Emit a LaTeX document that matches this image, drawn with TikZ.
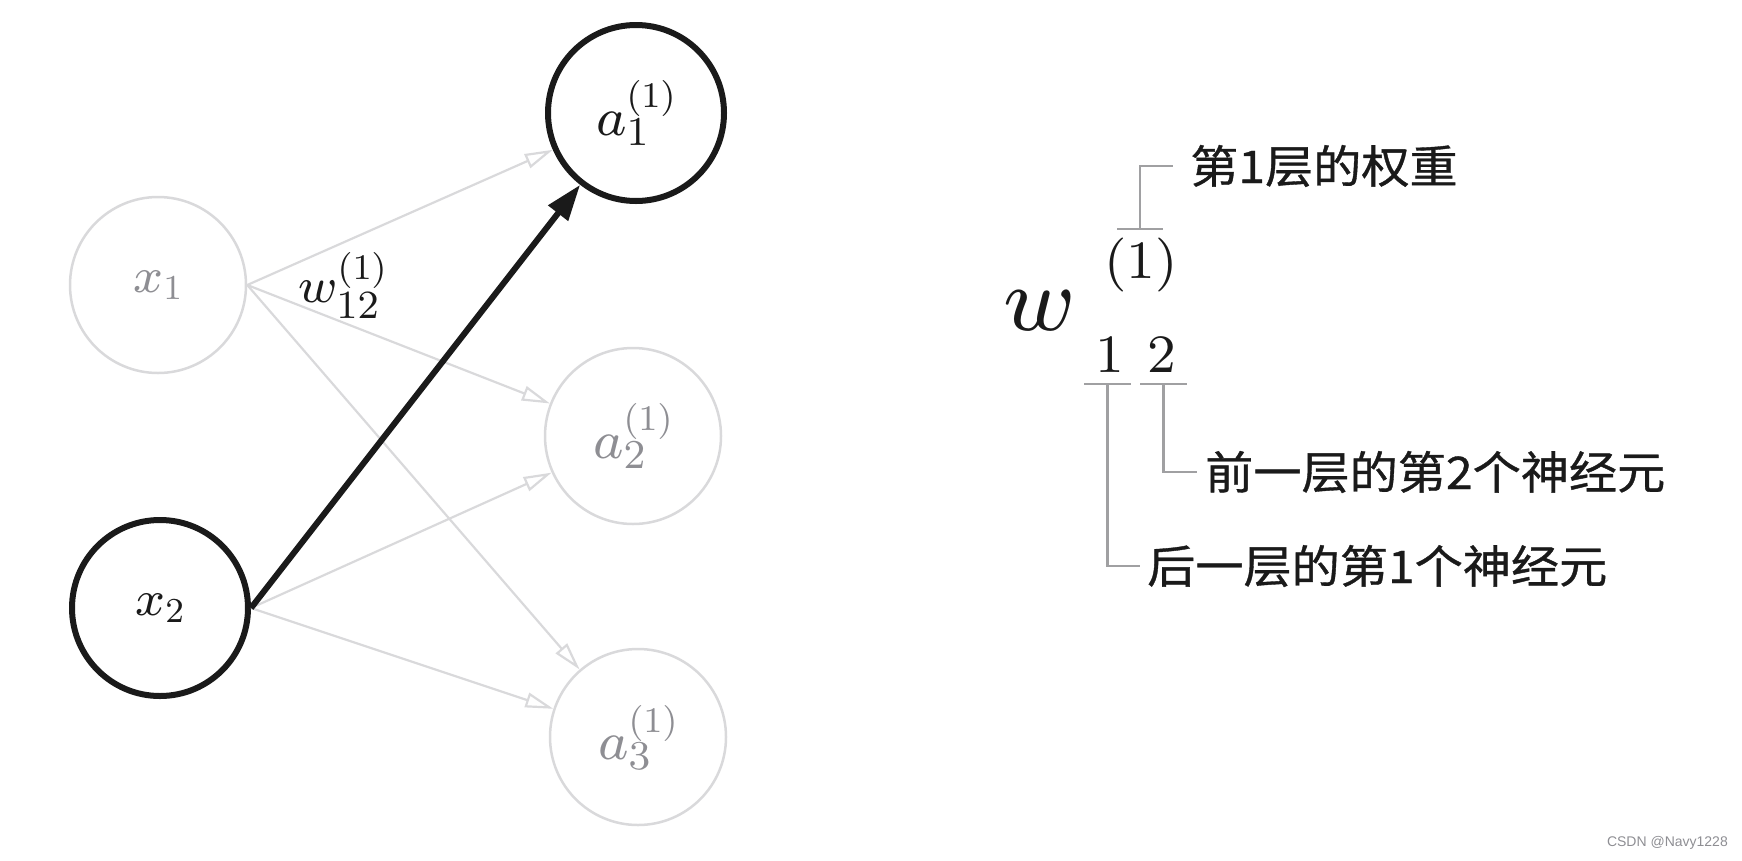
\RequirePackage{fix-cm}
\documentclass[tikz,border=0pt]{standalone}
\usepackage[no-math]{fontspec}
\setsansfont{Liberation Sans}
\newfontfamily\cjk[FakeStretch=1.07,FakeBold=0.8]{Noto Sans CJK SC}
\DeclareFontShape{OML}{cmm}{m}{it}{<->cmmi8}{}
\DeclareFontShape{OT1}{cmr}{m}{n}{<->cmr8}{}
\usetikzlibrary{arrows.meta}
\definecolor{lightg}{HTML}{D9D9DB}
\definecolor{labg}{HTML}{8E8E93}
\definecolor{brkg}{HTML}{A0A0A2}
\definecolor{ink}{HTML}{1A1A1A}
\newcommand{\fsz}[1]{\fontsize{#1}{#1}\selectfont}
% letter with explicitly sized (and shifted) subscript and superscript
\newcommand{\slab}[7]{$#1_{\hbox{\lower#6\hbox{\fsz{#2}$#3$}}}^{\hbox{\raise#7\hbox{\fsz{#4}$#5$}}}$}
\begin{document}
\begin{tikzpicture}[x=1pt,y=-1pt,
  neuron/.style={circle, minimum size=176pt, inner sep=0pt, draw=lightg, line width=2.5pt, text=labg, font=\fsz{50}},
  active/.style={draw=ink, line width=6pt, text=ink},
  garrow/.style={draw=lightg, line width=2.2pt, -{Triangle[open, length=28pt, width=15pt]}},
  barrow/.style={draw=ink, line width=6pt, -{Triangle[length=36pt, width=24pt]}},
  brk/.style={draw=brkg, line width=2.6pt},
  cjkt/.style={font=\cjk\fsz{45}, text=ink, inner ysep=0pt, anchor=west},
  mathbig/.style={font=\fsz{54}, text=ink, inner sep=0pt}
]
\useasboundingbox (0,0) rectangle (1742,860);

% neurons
\node[neuron] (x1) at (158,285) {$x_1$};
\node[neuron, active] (x2) at (160,608) {$x_2$};
\node[neuron, active, font=\fsz{54}] (a1) at (636,113) {\slab{a}{41}{1}{36}{(1)}{3pt}{0pt}};
\node[neuron, font=\fsz{54}] (a2) at (633,436) {\slab{a}{41}{2}{36}{(1)}{3pt}{0pt}};
\node[neuron, font=\fsz{54}] (a3) at (638,737) {\slab{a}{41}{3}{36}{(1)}{3pt}{0pt}};

% connections
\draw[garrow] (x1.east) -- (a1);
\draw[garrow] (x1.east) -- (a2);
\draw[garrow] (x1.east) -- (a3);
\draw[garrow] (x2.east) -- (a2);
\draw[garrow] (x2.east) -- (a3);
\draw[barrow] (x2.east) -- (a1);

% weight label
\node[font=\fsz{50}, text=ink, inner sep=0pt, anchor=base west] (wl) at (298,302) {\slab{w}{40}{12}{36}{(1)}{4pt}{4pt}};

% right explanation
\node[font=\fsz{92}, text=ink, inner sep=0pt] (w) at (1040,311) {$w$};
\node[mathbig] (sup) at (1141,265) {$(1)$};
\node[mathbig] (s1) at (1110,355) {$1$};
\node[mathbig] (s2) at (1162,355) {$2$};

\coordinate (bt) at (1140,229);
\coordinate (b1) at (1107.5,384);
\coordinate (b2) at (1163.5,384);
\draw[brk] ([xshift=-23pt]bt) -- ([xshift=23pt]bt);
\draw[brk] ([xshift=-23.5pt]b1) -- ([xshift=23.5pt]b1);
\draw[brk] ([xshift=-23.5pt]b2) -- ([xshift=23.5pt]b2);

\node[cjkt, inner xsep=17pt] (t1) at (1173,166) {第1层的权重};
\node[cjkt, inner xsep=8pt] (t2) at (1197,472) {前一层的第2个神经元};
\node[cjkt, inner xsep=7pt] (t3) at (1140,566) {后一层的第1个神经元};

\draw[brk] (bt) |- (t1.west);
\draw[brk] (b2) |- (t2.west);
\draw[brk] (b1) |- (t3.west);

\node[font=\sffamily\fsz{14}, text=labg, anchor=east, inner sep=0pt] (wm) at (1728,843) {CSDN @Navy1228};
\end{tikzpicture}
\end{document}
